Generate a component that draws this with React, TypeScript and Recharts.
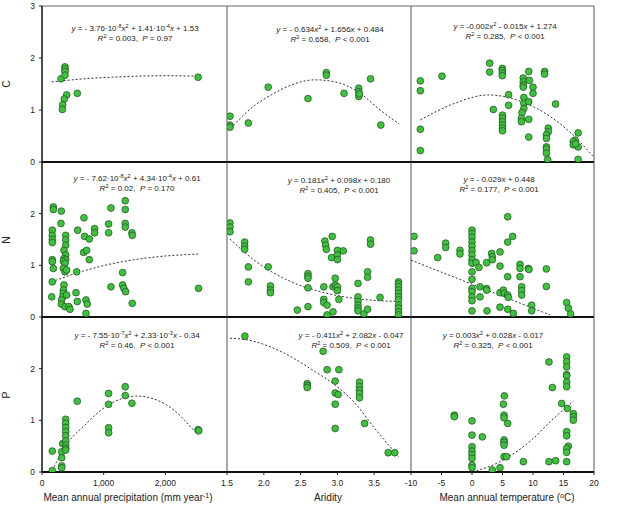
import React from 'react';
import { ScatterChart, Scatter, XAxis, YAxis, ReferenceLine } from 'recharts';

type Pt = [number, number];

// ---- C (carbon) ----
const C_PRECIP: Pt[] = [
    [308, 1.6], [373, 1.83], [373, 1.79], [373, 1.74], [373, 1.67], [400, 1.29], [361, 1.21],
    [335, 1.1], [330, 1.01], [572, 1.32], [2532, 1.63],
];
const C_PRECIP_FIT: Pt[] = [[157, 1.54], [800, 1.61], [1300, 1.64], [2000, 1.66], [2530, 1.65]];

const C_ARID: Pt[] = [
    [1.54, 0.88], [1.54, 0.71], [1.54, 0.67], [1.79, 0.75], [2.06, 1.44], [2.6, 1.22], [2.85, 1.72],
    [2.85, 1.67], [3.09, 1.32], [3.29, 1.42], [3.29, 1.35], [3.29, 1.26], [3.3, 1.31], [3.45, 1.6],
    [3.59, 0.71],
];
const C_ARID_FIT: Pt[] = [
    [1.55, 0.65], [1.87, 1.08], [2.1, 1.29], [2.32, 1.45], [2.7, 1.58], [3.0, 1.53], [3.31, 1.32],
    [3.58, 1.0], [3.84, 0.73],
];

const C_TEMP: Pt[] = [
    [-8.47, 1.56], [-8.47, 1.37], [-8.47, 0.63], [-8.47, 0.22], [-4.92, 1.65], [2.9, 1.9], [2.9, 1.73],
    [4.97, 1.8], [4.97, 1.76], [4.97, 1.71], [4.97, 1.66], [3.5, 1.01], [5.0, 0.9], [5.0, 0.84],
    [5.0, 0.775], [5.0, 0.71], [5.0, 0.65], [5.0, 0.6], [6.0, 1.295], [6.0, 1.09], [8.4, 1.615],
    [8.4, 1.545], [8.4, 1.48], [8.4, 1.44], [8.5, 1.24], [8.5, 1.13], [8.5, 1.03], [8.2, 0.95],
    [8.1, 0.84], [8.1, 0.775], [9.3, 1.74], [9.4, 1.57], [10.0, 1.44], [10.0, 1.32], [9.3, 1.16],
    [9.3, 0.82], [9.3, 0.48], [11.9, 1.74], [11.9, 1.69], [13.7, 1.115], [12.5, 0.65], [12.5, 0.58],
    [12.2, 0.52], [12.2, 0.455], [12.2, 0.29], [12.2, 0.25], [12.2, 0.17], [12.4, 0.045], [17.4, 0.56],
    [16.9, 0.42], [16.6, 0.39], [16.6, 0.33], [17.4, 0.29], [17.4, 0.05], [17.0, 0.35],
];
const C_TEMP_FIT: Pt[] = [
    [-8.47, 0.81], [-2.79, 1.13], [2.68, 1.29], [8.14, 1.16], [13.6, 0.81], [17.43, 0.42], [19.9, 0.1],
];

// ---- N (nitrogen) ----
const N_PRECIP: Pt[] = [
    [184, 2.13], [184, 2.08], [167, 1.68], [167, 1.58], [167, 1.5], [167, 1.44], [167, 1.11], [167, 1.07],
    [184, 0.94], [167, 0.68], [157, 0.39], [313, 2.05], [308, 1.81], [384, 1.58], [384, 1.49], [384, 1.39],
    [356, 1.29], [384, 1.2], [356, 1.13], [384, 1.11], [346, 1.08], [373, 1.04], [346, 0.94], [373, 0.875],
    [400, 0.91], [356, 0.62], [346, 0.52], [346, 0.46], [335, 0.39], [319, 0.33], [313, 0.25], [400, 0.425],
    [373, 0.2], [437, 0.2], [454, 0.15], [562, 0.875], [551, 0.47], [572, 0.3], [578, 1.68], [680, 1.92],
    [691, 1.56], [675, 1.25], [724, 1.29], [767, 1.51], [767, 1.11], [713, 0.33], [734, 0.25], [713, 0.07],
    [853, 1.71], [853, 1.63], [1080, 1.8], [1080, 1.63], [1118, 2.11], [1118, 0.585], [1350, 2.25],
    [1350, 2.08], [1350, 1.81], [1350, 1.74], [1458, 1.63], [1463, 1.58], [1307, 0.86], [1307, 0.62],
    [1328, 0.555], [1356, 0.49], [1463, 0.265], [2538, 0.555],
];
const N_PRECIP_FIT: Pt[] = [[157, 0.68], [670, 0.89], [1210, 1.05], [1750, 1.15], [2532, 1.22]];

const N_ARID: Pt[] = [
    [1.54, 1.82], [1.54, 1.74], [1.54, 1.65], [1.74, 1.45], [1.74, 1.37], [1.74, 1.31], [1.79, 0.97],
    [1.79, 0.68], [2.06, 0.97], [2.09, 0.6], [2.09, 0.52], [2.09, 0.47], [2.455, 0.135], [2.6, 0.84],
    [2.6, 0.79], [2.6, 0.75], [2.6, 0.565], [2.6, 0.2], [2.83, 1.47], [2.84, 1.39], [2.85, 1.31],
    [2.93, 1.56], [2.92, 1.15], [3.0, 1.29], [3.0, 1.2], [3.0, 1.11], [3.08, 1.28], [2.815, 0.585],
    [2.815, 0.34], [2.815, 0.28], [2.86, 0.23], [2.86, 0.04], [2.94, 0.585], [2.97, 0.75], [2.97, 0.62],
    [3.0, 0.585], [3.0, 0.51], [3.02, 0.34], [2.94, 0.1], [3.28, 0.65], [3.28, 0.39], [3.28, 0.3],
    [3.28, 0.23], [3.28, 0.17], [3.28, 0.12], [3.36, 0.06], [3.41, 0.15], [3.45, 1.49], [3.45, 1.41],
    [3.41, 0.875], [3.41, 0.77], [3.58, 0.38], [3.83, 0.68], [3.83, 0.64], [3.83, 0.585], [3.83, 0.52],
    [3.83, 0.46], [3.83, 0.39], [3.83, 0.33], [3.83, 0.23], [3.83, 0.17], [3.83, 0.1], [3.83, 0.04],
];
const N_ARID_FIT: Pt[] = [[1.54, 1.51], [1.87, 1.1], [2.32, 0.715], [2.77, 0.49], [3.23, 0.36], [3.83, 0.3]];

const N_TEMP: Pt[] = [
    [-9.51, 1.56], [-9.51, 1.28], [-5.63, 1.15], [-4.32, 1.43], [-4.32, 1.345], [-1.97, 1.29], [-1.97, 1.22],
    [0, 1.68], [0, 1.615], [0, 1.54], [0, 1.45], [0, 1.37], [0, 1.28], [0, 1.2], [0, 1.11], [0, 1.04],
    [0, 0.875], [0, 0.73], [0, 0.55], [0, 0.49], [0, 0.39], [0, 0.315], [0, 0.12], [0.66, 1.055],
    [1.15, 0.96], [1.31, 0.585], [1.31, 0.39], [2.4, 1.05], [2.4, 0.55], [2.4, 0.52], [2.46, 0.12],
    [3.22, 1.23], [3.33, 1.165], [3.33, 1.11], [4.59, 1.26], [4.59, 0.985], [4.59, 0.47], [4.59, 0.19],
    [5.14, 0.52], [5.3, 0.46], [5.85, 1.94], [5.85, 1.45], [5.85, 0.78], [5.85, 0.425], [5.85, 0.15],
    [5.96, 0.38], [6.67, 1.56], [6.78, 0.07], [7.87, 1.02], [7.87, 0.94], [7.87, 0.78], [8.14, 0.585],
    [8.14, 0.51], [8.14, 0.425], [9.23, 0.94], [9.34, 0.92], [9.78, 0.23], [9.78, 0.12], [12.19, 0.93],
    [12.19, 0.59], [15.52, 0.28], [15.79, 0.17], [16.17, 0.06],
];
const N_TEMP_FIT: Pt[] = [[-10, 1.1], [12.8, 0.04]];

// ---- P (phosphorus) ----
const P_PRECIP: Pt[] = [
    [167, 0.405], [167, 0.026], [319, 0.39], [319, 0.277], [319, 0.12], [319, 0.08], [335, 0.55],
    [384, 1.02], [384, 0.94], [384, 0.86], [384, 0.78], [384, 0.7], [384, 0.6], [384, 0.52], [384, 0.46],
    [384, 0.425], [572, 1.37], [1080, 1.52], [1080, 1.31], [1080, 0.856], [1080, 0.76], [1350, 1.65],
    [1350, 1.48], [1458, 1.33], [2532, 0.82], [2542, 0.8],
];
const P_PRECIP_FIT: Pt[] = [
    [167, 0.03], [384, 0.51], [670, 0.88], [1080, 1.3], [1540, 1.47], [2018, 1.3], [2532, 0.71],
];

const P_ARID: Pt[] = [
    [1.743, 2.63], [2.806, 2.336], [2.86, 1.98], [3.02, 1.98], [2.97, 1.76], [2.59, 1.71], [2.59, 1.67],
    [2.59, 1.635], [2.97, 1.53], [3.01, 1.5], [2.97, 1.313], [2.97, 0.843], [3.3, 1.74], [3.3, 1.65],
    [3.3, 1.583], [3.3, 1.52], [3.3, 1.435], [3.37, 0.94], [3.69, 0.373], [3.78, 0.373],
];
const P_ARID_FIT: Pt[] = [
    [1.54, 2.59], [1.8, 2.55], [2.25, 2.32], [2.7, 1.94], [2.97, 1.68], [3.24, 1.33], [3.51, 0.84], [3.83, 0.3],
];

const P_TEMP: Pt[] = [
    [-2.9, 1.1], [-2.9, 1.07], [0, 0.99], [0, 0.714], [0, 0.49], [0, 0.405], [0, 0.34], [0, 0.264],
    [0, 0.135], [0, 0.084], [1.69, 0.68], [3.33, 0.039], [4.59, 0.084], [5.14, 1.313], [5.3, 1.474],
    [5.25, 1.1], [5.25, 1.05], [5.85, 0.94], [5.25, 0.62], [5.25, 0.573], [5.25, 0.52], [5.25, 0.296],
    [5.68, 0.296], [8.42, 0.2], [12.62, 0.2], [12.62, 2.13], [13.17, 1.635], [13.72, 0.219], [14.7, 1.326],
    [15.52, 2.227], [15.52, 2.13], [15.52, 2.034], [15.52, 1.886], [15.52, 1.86], [15.52, 1.74],
    [15.52, 1.65], [15.63, 1.23], [15.52, 0.78], [15.52, 0.7], [15.79, 0.5], [15.52, 0.457], [15.52, 0.38],
    [15.52, 0.2], [16.61, 1.13], [16.61, 1.07], [16.61, 1.004],
];
const P_TEMP_FIT: Pt[] = [[0.74, 0.02], [4.59, 0.2], [10.05, 0.65], [12.79, 0.97], [16.6, 1.37]];

// ---- axes ----
const ROW_NAMES = ['C', 'N', 'P'];
const X_TITLES = ['Mean annual precipitation', 'Aridity', 'Mean annual temperature'];
const X_DOMAINS: [number, number][] = [[0, 3000], [1.5, 4], [-10, 20]];
const X_TICKS = [[0, 1000, 2000], [1.5, 2, 2.5, 3, 3.5], [-10, -5, 0, 5, 10, 15, 20]];

const FONT = '"Liberation Sans", Arial, sans-serif';
const PAD = 8;
const COLS: [number, number][] = [[42, 227], [227, 411], [411, 594]];
const ROWS: [number, number][] = [[6, 162], [162, 317], [317, 472]];

const xFormat = [
    (v: number) => v.toLocaleString('en-US'),
    (v: number) => v.toFixed(1),
    (v: number) => String(v),
];

const toObj = (pts: Pt[]) => pts.map(([x, y]) => ({ x, y }));

const Dot = (p: any) => (
    <circle cx={p.cx} cy={p.cy} r={3.4} fill="#3ec23e" stroke="#1f4a1f" strokeWidth={0.7} />
);

const Sup: React.FC<{ children: React.ReactNode }> = ({ children }) => (
    <span style={{ fontSize: '70%', position: 'relative', top: '-0.45em' }}>{children}</span>
);

const EQUATIONS: { cx: number; y: number; l1: React.ReactNode; l2: React.ReactNode }[] = [
    {
        cx: 135, y: 29,
        l1: <><i>y</i> = - 3.76·10<Sup>-8</Sup><i>x</i><Sup>2</Sup> + 1.41·10<Sup>-4</Sup><i>x</i> + 1.53</>,
        l2: <><i>R</i><Sup>2</Sup> = 0.003,  <i>P</i> = 0.97</>,
    },
    {
        cx: 330, y: 30,
        l1: <><i>y</i> = - 0.634<i>x</i><Sup>2</Sup> + 1.656<i>x</i> + 0.484</>,
        l2: <><i>R</i><Sup>2</Sup> = 0.658,  <i>P</i> &lt; 0.001</>,
    },
    {
        cx: 505, y: 27,
        l1: <><i>y</i> = -0.002<i>x</i><Sup>2</Sup> - 0.015<i>x</i> + 1.274</>,
        l2: <><i>R</i><Sup>2</Sup> = 0.285,  <i>P</i> &lt; 0.001</>,
    },
    {
        cx: 137, y: 179,
        l1: <><i>y</i> = - 7.62·10<Sup>-8</Sup><i>x</i><Sup>2</Sup> + 4.34·10<Sup>-4</Sup><i>x</i> + 0.61</>,
        l2: <><i>R</i><Sup>2</Sup> = 0.02,  <i>P</i> = 0.170</>,
    },
    {
        cx: 339, y: 181,
        l1: <><i>y</i> = 0.181<i>x</i><Sup>2</Sup> + 0.098<i>x</i> + 0.180</>,
        l2: <><i>R</i><Sup>2</Sup> = 0.405,  <i>P</i> &lt; 0.001</>,
    },
    {
        cx: 499, y: 180,
        l1: <><i>y</i> = - 0.029<i>x</i> + 0.448</>,
        l2: <><i>R</i><Sup>2</Sup> = 0.177,  <i>P</i> &lt; 0.001</>,
    },
    {
        cx: 137, y: 336,
        l1: <><i>y</i> = - 7.55·10<Sup>-7</Sup><i>x</i><Sup>2</Sup> + 2.33·10<Sup>-3</Sup><i>x</i> - 0.34</>,
        l2: <><i>R</i><Sup>2</Sup> = 0.46,  <i>P</i> &lt; 0.001</>,
    },
    {
        cx: 351, y: 336,
        l1: <><i>y</i> = - 0.411<i>x</i><Sup>2</Sup> + 2.082<i>x</i> - 0.047</>,
        l2: <><i>R</i><Sup>2</Sup> = 0.509,  <i>P</i> &lt; 0.001</>,
    },
    {
        cx: 493, y: 336,
        l1: <><i>y</i> = 0.003<i>x</i><Sup>2</Sup> + 0.028<i>x</i> - 0.017</>,
        l2: <><i>R</i><Sup>2</Sup> = 0.325,  <i>P</i> &lt; 0.001</>,
    },
];

const PANELS: { pts: Pt[]; fit: Pt[] }[][] = [
    [{ pts: C_PRECIP, fit: C_PRECIP_FIT }, { pts: C_ARID, fit: C_ARID_FIT }, { pts: C_TEMP, fit: C_TEMP_FIT }],
    [{ pts: N_PRECIP, fit: N_PRECIP_FIT }, { pts: N_ARID, fit: N_ARID_FIT }, { pts: N_TEMP, fit: N_TEMP_FIT }],
    [{ pts: P_PRECIP, fit: P_PRECIP_FIT }, { pts: P_ARID, fit: P_ARID_FIT }, { pts: P_TEMP, fit: P_TEMP_FIT }],
];

const Panel: React.FC<{ r: number; c: number; pts: Pt[]; fit: Pt[] }> = ({ r, c, pts, fit }) => {
    const yW = c === 0 ? 34 : 0;
    const xH = r === 2 ? 22 : 0;
    const plotW = COLS[c][1] - COLS[c][0];
    const plotH = ROWS[r][1] - ROWS[r][0];
    const tickStyle = { fontSize: 8.5, fill: '#222', fontFamily: FONT };
    return (
        <div style={{ position: 'absolute', left: COLS[c][0] - yW - PAD, top: ROWS[r][0] - PAD }}>
            <ScatterChart
                width={plotW + yW + 2 * PAD}
                height={plotH + xH + 2 * PAD}
                margin={{ top: PAD, right: PAD, bottom: PAD, left: PAD }}
            >
                <XAxis
                    type="number"
                    dataKey="x"
                    domain={X_DOMAINS[c]}
                    ticks={X_TICKS[c]}
                    interval={0}
                    allowDataOverflow
                    hide={r !== 2}
                    height={xH}
                    axisLine={false}
                    tickLine={{ stroke: '#222' }}
                    tickSize={3}
                    tickMargin={5}
                    tick={tickStyle}
                    tickFormatter={xFormat[c]}
                />
                <YAxis
                    type="number"
                    dataKey="y"
                    domain={[0, 3]}
                    ticks={r === 0 ? [0, 1, 2, 3] : [0, 1, 2]}
                    interval={0}
                    allowDataOverflow
                    hide={c !== 0}
                    width={yW}
                    axisLine={{ stroke: '#111', strokeWidth: 1.5 }}
                    tickLine={{ stroke: '#222' }}
                    tickSize={3}
                    tickMargin={4}
                    tick={tickStyle}
                />
                {r === 0 && <ReferenceLine y={3} stroke="#666" strokeWidth={1} />}
                <ReferenceLine x={X_DOMAINS[c][1]} stroke="#555" strokeWidth={1} />
                <ReferenceLine y={0} stroke="#111" strokeWidth={2} />
                <Scatter
                    data={toObj(fit)}
                    line={{ stroke: '#333', strokeWidth: 1, strokeDasharray: '2 2' }}
                    lineType="joint"
                    lineJointType="monotoneX"
                    shape={() => <g />}
                    isAnimationActive={false}
                />
                <Scatter data={toObj(pts)} shape={Dot} isAnimationActive={false} />
            </ScatterChart>
        </div>
    );
};

export default function App() {
    return (
        <div
            style={{
                position: 'absolute',
                left: 0,
                top: 0,
                width: 617,
                height: 507,
                background: '#fff',
                fontFamily: FONT,
                color: '#222',
            }}
        >
            {PANELS.map((row, r) => row.map((p, c) => <Panel key={`${r}-${c}`} r={r} c={c} pts={p.pts} fit={p.fit} />))}

            {/* regression equations */}
            {EQUATIONS.map((e, i) => (
                <div
                    key={i}
                    style={{
                        position: 'absolute',
                        left: e.cx,
                        top: e.y - 5,
                        transform: 'translateX(-50%)',
                        fontSize: 8,
                        lineHeight: '10px',
                        whiteSpace: 'pre',
                        textAlign: 'center',
                    }}
                >
                    <div>{e.l1}</div>
                    <div>{e.l2}</div>
                </div>
            ))}

            {/* row titles */}
            {ROW_NAMES.map((n, r) => (
                <div
                    key={n}
                    style={{
                        position: 'absolute',
                        left: 6,
                        top: (ROWS[r][0] + ROWS[r][1]) / 2,
                        transform: 'translate(-50%, -50%) rotate(-90deg)',
                        fontSize: 10.5,
                    }}
                >
                    {n}
                </div>
            ))}

            {/* column titles */}
            {[128, 328, 507].map((cx, c) => (
                <div
                    key={c}
                    style={{
                        position: 'absolute',
                        left: cx,
                        top: 492,
                        transform: 'translateX(-50%)',
                        fontSize: 10,
                        whiteSpace: 'nowrap',
                    }}
                >
                    {X_TITLES[c]}
                    {c === 0 && <> (mm year<Sup>-1</Sup>)</>}
                    {c === 2 && <> (<Sup>o</Sup>C)</>}
                </div>
            ))}
        </div>
    );
}
